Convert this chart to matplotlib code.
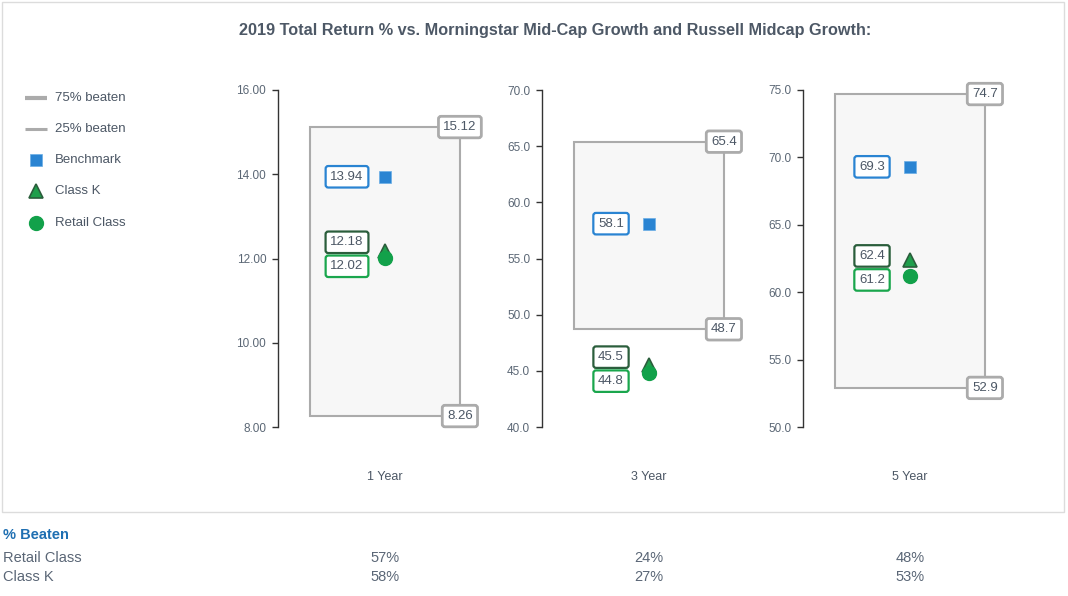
"""
Total return box chart: fund classes vs. Morningstar / Russell peer ranges,
with a small '% Beaten' table under the frame.
"""

import matplotlib
matplotlib.use('Agg')
import matplotlib.pyplot as plt
from matplotlib.patches import Rectangle
from matplotlib.transforms import blended_transform_factory

plt.rcParams['font.family'] = ['Liberation Sans', 'DejaVu Sans']

# data
periods = ['1 Year', '3 Year', '5 Year']
pct75 = [15.12, 65.4, 74.7]
pct25 = [8.26, 48.7, 52.9]
benchmark = [13.94, 58.1, 69.3]
class_k = [12.18, 45.5, 62.4]
retail = [12.02, 44.8, 61.2]
y_limits = [(8, 16), (40, 70), (50, 75)]
y_steps = [2, 5, 5]
y_formats = ['{:.2f}', '{:.1f}', '{:.1f}']
beaten_retail = ['57%', '24%', '48%']
beaten_k = ['58%', '27%', '53%']

BLUE = '#2a84d2'
GREEN = '#12a14a'
DARK_GREEN = '#2b5e3c'
LABEL_GREEN = '#1aa64d'
GREY = '#ababab'
TEXT = '#4c5765'

W, H = 1068, 596
fig = plt.figure(figsize=(W / 100, H / 100), dpi=100)

# overlay in pixel coordinates for frame, title, legend and table
bg = fig.add_axes([0, 0, 1, 1])
bg.set_xlim(0, W)
bg.set_ylim(H, 0)
bg.axis('off')
bg.add_patch(Rectangle((2, 2), 1062, 510, fill=False, edgecolor='#dcdcdc', lw=1))
bg.text(555, 30, '2019 Total Return % vs. Morningstar Mid-Cap Growth and Russell Midcap Growth:',
        ha='center', va='center', fontsize=11.7, fontweight='bold', color='#4d5866')

# legend
bg.plot([25, 47], [98, 98], color=GREY, lw=3, solid_capstyle='butt')
bg.plot([25, 47], [129, 129], color=GREY, lw=2.2, solid_capstyle='butt')
bg.plot(36, 160, marker='s', ms=9, color=BLUE, mec='#6aaee6', mew=0.5)
bg.plot(36, 191, marker='^', ms=10, color='#1f9f4c', mec=DARK_GREEN, mew=1.2)
bg.plot(36, 223, marker='o', ms=10, color=GREEN, mec=GREEN)
for yy, txt in zip([98, 129, 160, 191, 223],
                   ['75% beaten', '25% beaten', 'Benchmark', 'Class K', 'Retail Class']):
    bg.text(55, yy, txt, va='center', ha='left', fontsize=9.5, color=TEXT)

axis_px = [278, 542, 803]
ax_bottom = 1 - 427 / H
ax_height = 337 / H
px_per_x = 107.0
x_max = 2.4


def value_label(ax, x, y, text, edge, dy_px=0, lw=1.6):
    ax.annotate(text, xy=(x, y), xytext=(0, dy_px * 0.72), textcoords='offset points',
                ha='center', va='center', fontsize=9.5, color=TEXT, zorder=6,
                bbox=dict(boxstyle='round,pad=0.36,rounding_size=0.2',
                          fc='white', ec=edge, lw=lw))


for i, period in enumerate(periods):
    ax = fig.add_axes([axis_px[i] / W, ax_bottom, x_max * px_per_x / W, ax_height])
    ax.patch.set_alpha(0)
    lo, hi = y_limits[i]
    ax.set_xlim(0, x_max)
    ax.set_ylim(lo, hi)
    for s in ['top', 'right', 'bottom']:
        ax.spines[s].set_visible(False)
    ax.spines['left'].set_color('#333333')
    ax.spines['left'].set_linewidth(1)
    ticks = list(range(lo, hi + 1, y_steps[i]))
    ax.set_yticks(ticks)
    ax.set_yticklabels([y_formats[i].format(t) for t in ticks])
    ax.tick_params(axis='y', length=4.5, width=1, color='#333333',
                   labelsize=8.5, labelcolor='#5b6775', pad=4)
    ax.set_xticks([])

    # peer range box
    ax.add_patch(Rectangle((0.3, pct25[i]), 1.4, pct75[i] - pct25[i],
                           facecolor='#f7f7f7', edgecolor=GREY, lw=1.5, zorder=2))
    value_label(ax, 1.7, pct75[i], f'{pct75[i]:g}', GREY, lw=2)
    value_label(ax, 1.7, pct25[i], f'{pct25[i]:g}', GREY, lw=2)

    # markers
    ax.plot(1.0, benchmark[i], marker='s', ms=9, color=BLUE, mec='#6aaee6', mew=0.5, zorder=4)
    ax.plot(1.0, class_k[i], marker='^', ms=10, color='#1f9f4c', mec=DARK_GREEN, mew=1.2, zorder=4)
    ax.plot(1.0, retail[i], marker='o', ms=10, color=GREEN, mec=GREEN, zorder=5)

    # labels, pushed apart when the two class values sit too close
    ppu = 337 / (hi - lo)
    yk, yr = class_k[i] * ppu, retail[i] * ppu
    min_sep = 24
    dk = dr = 0
    if abs(yk - yr) < min_sep:
        mid = (yk + yr) / 2
        sign = 1 if yk >= yr else -1
        dk = mid + sign * min_sep / 2 - yk
        dr = mid - sign * min_sep / 2 - yr
    value_label(ax, 0.645, benchmark[i], f'{benchmark[i]:g}', BLUE)
    value_label(ax, 0.645, class_k[i], f'{class_k[i]:g}', DARK_GREEN, dy_px=dk)
    value_label(ax, 0.645, retail[i], f'{retail[i]:g}', LABEL_GREEN, dy_px=dr)

    ax.text(1.0, -50 / 337, period, transform=ax.get_xaxis_transform(),
            ha='center', va='center', fontsize=9, color=TEXT)

    # % beaten table values under the frame
    tr = blended_transform_factory(ax.transData, bg.transData)
    bg.text(1.0, 558, beaten_retail[i], transform=tr, ha='center', va='center',
            fontsize=10.5, color='#5a6676')
    bg.text(1.0, 577, beaten_k[i], transform=tr, ha='center', va='center',
            fontsize=10.5, color='#5a6676')

bg.text(3, 535, '% Beaten', ha='left', va='center', fontsize=10.5, fontweight='bold', color='#1f6fb2')
bg.text(3, 558, 'Retail Class', ha='left', va='center', fontsize=10.5, color='#5a6676')
bg.text(3, 577, 'Class K', ha='left', va='center', fontsize=10.5, color='#5a6676')

plt.savefig('out.png', dpi=100)
print('Saved: out.png')
